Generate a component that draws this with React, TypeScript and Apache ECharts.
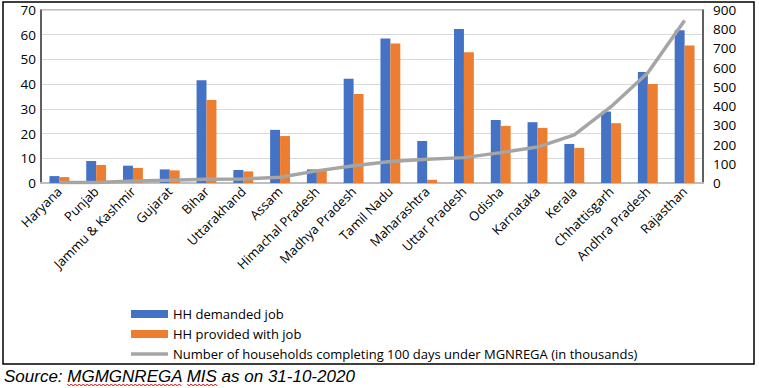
import React, { useEffect, useRef } from "react";
import * as echarts from "echarts";

const states = [
  "Haryana", "Punjab", "Jammu & Kashmir", "Gujarat", "Bihar", "Uttarakhand", "Assam",
  "Himachal Pradesh", "Madhya Pradesh", "Tamil Nadu", "Maharashtra", "Uttar Pradesh",
  "Odisha", "Karnataka", "Kerala", "Chhattisgarh", "Andhra Pradesh", "Rajasthan",
];
const demanded = [2.8, 8.9, 7.0, 5.5, 41.6, 5.3, 21.5, 5.5, 42.2, 58.5, 17.0, 62.3, 25.5, 24.6, 15.8, 28.9, 44.9, 61.8];
const provided = [2.4, 7.3, 6.1, 5.1, 33.6, 4.7, 19.0, 5.0, 36.0, 56.4, 1.3, 52.9, 23.1, 22.3, 14.2, 24.2, 40.1, 55.6];
const completed100 = [2, 2, 10, 14, 19, 21, 30, 63, 90, 112, 123, 132, 158, 187, 250, 397, 574, 845];

const seriesNames = [
  "HH demanded job",
  "HH provided with job",
  "Number of households completing 100 days under MGNREGA (in thousands)",
];
const sourcePrefix = "Source: ";
const sourceText = "Source: MGMGNREGA MIS as on 31-10-2020";
const misspelled = ["MGMGNREGA", "MIS"];

function measure(text: string, font: string): number {
  const c = document.createElement("canvas").getContext("2d");
  if (!c) return text.length * 8;
  c.font = font;
  return c.measureText(text).width;
}

function wavy(x0: number, x1: number, y: number): number[][] {
  const pts: number[][] = [];
  let up = true;
  for (let x = x0; x <= x1; x += 2) {
    pts.push([x, up ? y : y + 2]);
    up = !up;
  }
  return pts;
}

export default function App() {
  const ref = useRef<HTMLDivElement>(null);
  useEffect(() => {
    if (!ref.current) return;
    const chart = echarts.init(ref.current, null, { renderer: "svg" });
    const font = "Open Sans";
    const srcFont = "italic 17px 'Liberation Sans'";
    const srcLeft = 4;
    const squiggles: any[] = [];
    let cursor = srcLeft + measure(sourcePrefix, srcFont);
    const w1 = measure(misspelled[0], srcFont);
    squiggles.push({
      type: "polyline", silent: true,
      shape: { points: wavy(cursor, cursor + w1, 384) },
      style: { stroke: "#e00000", lineWidth: 1, fill: "none" },
    });
    cursor += w1 + measure(" ", srcFont);
    const w2 = measure(misspelled[1], srcFont);
    squiggles.push({
      type: "polyline", silent: true,
      shape: { points: wavy(cursor, cursor + w2, 384) },
      style: { stroke: "#e00000", lineWidth: 1, fill: "none" },
    });

    chart.setOption({
      animation: false,
      backgroundColor: "#ffffff",
      grid: {
        left: 41, right: 56, top: 10, bottom: 205,
        show: true, borderColor: "#7f7f7f", borderWidth: 1,
      },
      legend: {
        orient: "vertical",
        left: 126,
        top: 302,
        itemWidth: 37,
        itemHeight: 8,
        itemGap: 6,
        textStyle: { fontFamily: font, fontSize: 13, color: "#000", lineHeight: 14 },
        data: [
          { name: seriesNames[0], icon: "rect" },
          { name: seriesNames[1], icon: "rect" },
          { name: seriesNames[2], icon: "path://M0,0L37,0L37,3.5L0,3.5Z", itemStyle: { color: "#a5a5a5" } },
        ],
      },
      xAxis: {
        type: "category",
        data: states,
        axisTick: { show: false },
        axisLine: { lineStyle: { color: "#bfbfbf", width: 2 } },
        axisLabel: {
          interval: 0, rotate: 45, fontFamily: font, fontSize: 13, color: "#000", margin: 6,
        },
      },
      yAxis: [
        {
          type: "value", min: 0, max: 70, interval: 10,
          axisLine: { show: true, lineStyle: { color: "#404040", width: 1.5 } },
          axisTick: { show: false },
          splitLine: { lineStyle: { color: "#d9d9d9" } },
          axisLabel: { fontFamily: font, fontSize: 13.5, color: "#000", margin: 5 },
        },
        {
          type: "value", min: 0, max: 900, interval: 100, position: "right",
          axisLine: { show: true, lineStyle: { color: "#404040", width: 1.5 } },
          axisTick: { show: false },
          splitLine: { show: false },
          axisLabel: { fontFamily: font, fontSize: 13.5, color: "#000", margin: 10 },
        },
      ],
      series: [
        {
          name: seriesNames[0], type: "bar", data: demanded, barGap: "0%", barCategoryGap: "46%",
          itemStyle: { color: "#4472c4" },
        },
        {
          name: seriesNames[1], type: "bar", data: provided,
          itemStyle: { color: "#ed7d31" },
        },
        {
          name: seriesNames[2], type: "line", yAxisIndex: 1, data: completed100,
          symbol: "none", showSymbol: false, z: 5,
          lineStyle: { color: "#a5a5a5", width: 3.5 },
          itemStyle: { color: "#a5a5a5" },
        },
      ],
      graphic: [
        {
          type: "rect",
          shape: { x: 3, y: 2, width: 751, height: 362 },
          style: { fill: "none", stroke: "#000", lineWidth: 1.5 },
          silent: true,
        },
        {
          type: "text",
          left: srcLeft,
          top: 368,
          style: { text: sourceText, font: srcFont, fill: "#000" },
        },
        ...squiggles,
      ],
    });
    return () => chart.dispose();
  }, []);
  return (
    <div
      ref={ref}
      style={{ position: "absolute", left: 0, top: 0, width: 759, height: 388, background: "#fff" }}
    />
  );
}
